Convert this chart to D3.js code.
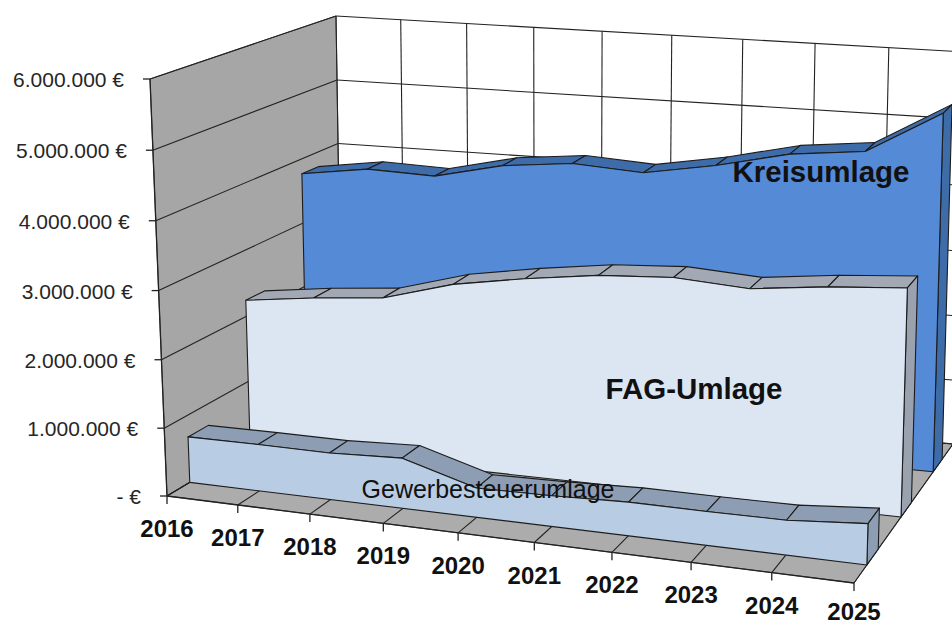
<!DOCTYPE html>
<html><head><meta charset="utf-8">
<script src="https://cdn.jsdelivr.net/npm/d3@7"></script>
<style>html,body{margin:0;background:#fff;overflow:hidden}text{font-family:"Liberation Sans",Arial,sans-serif}</style>
</head><body><svg id="c" width="952" height="626"></svg>
<script>
const years = ["2016","2017","2018","2019","2020","2021","2022","2023","2024","2025"];
const valueTicks = [0,1000000,2000000,3000000,4000000,5000000,6000000];
const tickLabels = ["- €","1.000.000 €","2.000.000 €","3.000.000 €","4.000.000 €","5.000.000 €","6.000.000 €"];
const seriesNames = ["Gewerbesteuerumlage","FAG-Umlage","Kreisumlage"];
const gewerbe = [680000,690000,690000,740000,430000,450000,490000,490000,500000,590000];
const fag = [2245000,2380000,2480000,2785000,2970000,3120000,3190000,3130000,3260000,3350000];
const kreis = [3770000,3920000,3890000,4130000,4240000,4180000,4370000,4620000,4740000,5380000];

// box corners on screen: [front-left, front-right, back-right, back-left]
const floorQ=[[167,496],[854,583],[953,444],[342,391]];
const topQ=[[150,79],[866,146],[964,52],[336,16]];
const lerp=(a,b,t)=>[a[0]+(b[0]-a[0])*t,a[1]+(b[1]-a[1])*t];
const persp=(u,r)=>u/(u+(1-u)*r);
const quad=(q,u,v)=>{const f=persp(u,1.088);return lerp(lerp(q[0],q[1],f),lerp(q[3],q[2],f),v);};
const xS=d3.scalePoint().domain(years).range([0,1]);
const yS=d3.scaleLinear().domain([0,6000000]).range([0,1]);
function P(year,depth,val){
  return lerp(quad(floorQ,xS(year),depth),quad(topQ,xS(year),depth),persp(yS(val),1.03));
}
const svg=d3.select("#c");
const line=d3.line();
function poly(pts,fill,sw=1.1){svg.append("path").attr("d",line(pts)+"Z").attr("fill",fill).attr("stroke","#1c1c1c").attr("stroke-width",sw).attr("stroke-linejoin","round");}
function seg(a,b,sw=1.1,c="#222"){svg.append("path").attr("d",line([a,b])).attr("stroke",c).attr("stroke-width",sw).attr("fill","none");}
const first=years[0],last=years[years.length-1],maxV=valueTicks[valueTicks.length-1];
svg.append("path").attr("d",line([P(first,0,0),P(first,1,0),P(last,1,0),P(last,1,maxV),P(first,1,maxV)])+"Z").attr("fill","#fff");
poly([P(first,1,0),P(first,1,maxV),P(first,0,maxV),P(first,0,0)],"#a6a6a6",.8);
poly([P(first,0,0),P(last,0,0),P(last,1,0),P(first,1,0)],"#acacac",.8);
valueTicks.forEach(v=>{
  seg(P(first,0,v),P(first,1,v));
  seg(P(first,1,v),P(last,1,v));
});
years.forEach(y=>{seg(P(y,1,0),P(y,1,maxV));seg(P(y,0,0),P(y,1,0));});
seg(P(first,0,0),P(first,0,maxV),1.3);
seg(P(first,0,0),P(last,0,0),1.3);
valueTicks.forEach((v,i)=>{
  const p=P(first,0,v);
  seg([p[0]-7,p[1]],p,1.3);
  svg.append("text").attr("x",p[0]-26).attr("y",p[1]+8).attr("text-anchor","end").attr("font-size",21).attr("fill","#262626").text(tickLabels[i]);
});
years.forEach(y=>{
  const p=P(y,0,0);
  seg(p,[p[0],p[1]+8],1.3);
  svg.append("text").attr("x",p[0]).attr("y",Math.min(p[1]+41,620)).attr("text-anchor","middle").attr("font-size",24).attr("font-weight","bold").attr("fill","#111").text(y);
});
function area(vals,v0,v1,cFront,cTop,cSide){
  for(let i=0;i<years.length-1;i++){
    poly([P(years[i],v0,vals[i]),P(years[i+1],v0,vals[i+1]),P(years[i+1],v1,vals[i+1]),P(years[i],v1,vals[i])],cTop);
  }
  const n=years.length-1;
  poly([P(last,v0,0),P(last,v1,0),P(last,v1,vals[n]),P(last,v0,vals[n])],cSide);
  const pts=years.map((y,i)=>P(y,v0,vals[i]));
  poly(pts.concat([P(last,v0,0),P(first,v0,0)]),cFront);
}
area(kreis,.80,.89,"#558ad6","#3d6ca8","#3d6ca8");
area(fag,.475,.58,"#dce6f3","#a2a9b5","#99a2ae");
area(gewerbe,.13,.245,"#b8cce4","#8d9db3","#8d9db3");
svg.append("text").attr("x",821).attr("y",182).attr("text-anchor","middle").attr("font-size",29.5).attr("font-weight","bold").attr("fill","#111").text(seriesNames[2]);
svg.append("text").attr("x",694).attr("y",399).attr("text-anchor","middle").attr("font-size",29.5).attr("font-weight","bold").attr("fill","#111").text(seriesNames[1]);
svg.append("text").attr("x",488).attr("y",498).attr("text-anchor","middle").attr("font-size",25).attr("fill","#111").text(seriesNames[0]);
</script></body></html>
